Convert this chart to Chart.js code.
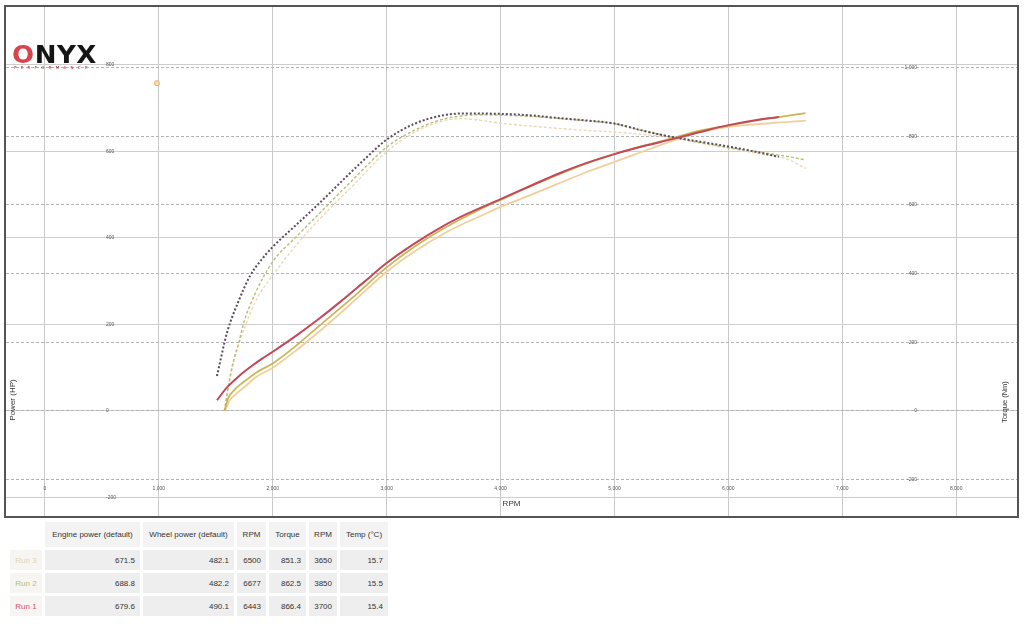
<!DOCTYPE html>
<html>
<head>
<meta charset="utf-8">
<script src="https://cdn.jsdelivr.net/npm/chart.js@4.4.1/dist/chart.umd.min.js"></script>
<style>
  html, body { margin:0; padding:0; background:#fff; width:1024px; height:624px; overflow:hidden;
    font-family:"Liberation Sans", Arial, sans-serif; }
  #frame { position:absolute; left:4px; top:5px; width:1011px; height:509px; border:2px solid #555; }
  #frame canvas { display:block; }
  #logo { position:absolute; left:12px; top:43px; z-index:2; }
  #logo .brand { font-family:"DejaVu Sans", sans-serif; font-weight:bold; font-size:25px; line-height:24px;
    letter-spacing:0.5px; color:#151515; transform:scaleX(1.04); transform-origin:left top; }
  #logo .brand .o { color:#d8434c; }
  #logo .sub { font-family:"DejaVu Sans", sans-serif; font-size:4px; line-height:4px; letter-spacing:4.3px;
    color:#9a2a30; margin-left:2px; margin-top:-1px; }
  #stats { position:absolute; left:7px; top:519px; border-collapse:separate; border-spacing:3px;
    font-size:8px; color:#333; table-layout:fixed; }
  #stats th, #stats td { box-sizing:border-box; padding:0 5px; white-space:nowrap; }
  #stats th { height:25px; font-weight:normal; background:#f3f3f3; text-align:center; }
  #stats th.blank { background:transparent; }
  #stats td { height:20px; background:#eeeeee; text-align:right; }
  #stats td.run { text-align:center; background:#f7f5f2; }
</style>
</head>
<body>
<div id="frame"><canvas id="c"></canvas></div>
<div id="logo"><div class="brand"><span class="o">O</span>NYX</div><div class="sub">PERFORMANCE</div></div>
<table id="stats"></table>
<script>
// ---- chart data ----
const run1Rpm    = [1510,1600,1700,1800,1900,2000,2200,2400,2600,2800,3000,3250,3500,3700,4000,4250,4500,4750,5000,5250,5500,5750,6000,6250,6443];
const run1Power  = [25,55,80,101,120,137,173,212,254,298,342,388,428,455,490,519,548,573,594,612,628,645,661,673,679.6];
const run1Torque = [102,230,320,393,440,478,540,602,667,731,790,837,861,866.4,865,861,853,846,837,816,798,784,770,754,740];

const run2Rpm    = [1575,1610,1650,1700,1750,1850,2000,2200,2400,2700,3000,3250,3500,3850,4000,4250,4500,4750,5000,5250,5500,5750,6000,6250,6500,6677];
const run2Power  = [0,30,45,58,68,88,110,150,195,262,332,381,422,470,488,518,546,572,594,613,630,648,660,672,682,688.8];
const run2Torque = [0,71,139,197,262,345,435,505,572,672,768,818,850,862.5,861,858,852,845,836,816,798,782,767,755,742,731];

const run3Rpm    = [1580,1620,1680,1750,1850,2000,2200,2400,2700,3000,3250,3500,3650,3800,4000,4250,4500,4750,5000,5250,5500,5750,6000,6250,6500,6680];
const run3Power  = [0,24,40,55,78,100,139,182,251,322,370,410,430,448,472,498,525,552,576,600,624,644,657,663,668,671.5];
const run3Torque = [0,85,170,240,320,395,480,555,655,755,812,845,851.3,847,838,830,823,817,812,805,796,780,765,750,735,706];

const strayRpm   = [983];
const strayPower = [758];

// ---- axis tick steps ----
const rpmStep = 1000;
const powerStep = 200;
const torqueStep = 200;

// ---- table data ----
const headers     = ['Engine power (default)','Wheel power (default)','RPM','Torque','RPM','Temp (°C)'];
const runNames    = ['Run 3','Run 2','Run 1'];
const enginePower = [671.5, 688.8, 679.6];
const wheelPower  = [482.1, 482.2, 490.1];
const powerRpm    = [6500, 6677, 6443];
const peakTorque  = [851.3, 862.5, 866.4];
const torqueRpm   = [3650, 3850, 3700];
const temps       = [15.7, 15.5, 15.4];

const runColors = { 'Run 1':'#d9506a', 'Run 2':'#bcbc6a', 'Run 3':'#e2d2b2' };

// ---- table ----
(function(){
  const t = document.getElementById('stats');
  const widths = [32,95,91,29,37,28,48];
  let h = '<tr><th class="blank" style="width:'+widths[0]+'px"></th>';
  headers.forEach((s,i)=>{ h += '<th style="width:'+widths[i+1]+'px">'+s+'</th>'; });
  h += '</tr>';
  runNames.forEach((n,i)=>{
    h += '<tr><td class="run" style="color:'+runColors[n]+'">'+n+'</td>' +
      '<td>'+enginePower[i].toFixed(1)+'</td><td>'+wheelPower[i].toFixed(1)+'</td>' +
      '<td>'+powerRpm[i]+'</td><td>'+peakTorque[i].toFixed(1)+'</td>' +
      '<td>'+torqueRpm[i]+'</td><td>'+temps[i].toFixed(1)+'</td></tr>';
  });
  t.innerHTML = h;
})();

// ---- chart ----
const pts = (xs, ys) => xs.map((x,i)=>({x:x, y:ys[i]}));
const stepLabel = (step) => (v) => {
  const r = v / step;
  return Math.abs(r - Math.round(r)) < 1e-6 ? Number(v).toLocaleString('en-US') : null;
};
const zeroFit = (horizontal) => (s) => {
  if (horizontal) s.height = 0; else s.width = 0;
  s.paddingLeft = 0; s.paddingRight = 0; s.paddingTop = 0; s.paddingBottom = 0;
};

const axisTitles = {
  id:'axisTitles',
  afterDraw(chart){
    const {ctx, chartArea:a} = chart;
    ctx.save();
    ctx.fillStyle = '#333';
    ctx.textAlign = 'center';
    ctx.textBaseline = 'middle';
    ctx.font = '8px "Liberation Sans", Arial, sans-serif';
    ctx.fillText('RPM', (a.left+a.right)/2, a.bottom - 12);
    ctx.save();
    ctx.translate(a.left + 7, a.top + 393);
    ctx.rotate(-Math.PI/2);
    ctx.fillText('Power (HP)', 0, 0);
    ctx.restore();
    ctx.save();
    ctx.font = '7.5px "Liberation Sans", Arial, sans-serif';
    ctx.translate(a.right - 12, a.top + 395);
    ctx.rotate(-Math.PI/2);
    ctx.fillText('Torque (Nm)', 0, 0);
    ctx.restore();
    ctx.restore();
  }
};

const tickFont = { size:5, family:'"Liberation Sans", Arial, sans-serif' };

new Chart(document.getElementById('c'), {
  type:'line',
  data:{
    datasets:[
      { label:'Run 1 power', data:pts(run1Rpm, run1Power), yAxisID:'yP',
        borderColor:'#c2485a', borderWidth:2 },
      { label:'Run 1 torque', data:pts(run1Rpm, run1Torque), yAxisID:'yT',
        borderColor:'#5e4a5e', borderWidth:2, borderDash:[2,2] },
      { label:'Run 2 power', data:pts(run2Rpm, run2Power), yAxisID:'yP',
        borderColor:'#c9b654', borderWidth:1.8 },
      { label:'Run 2 torque', data:pts(run2Rpm, run2Torque), yAxisID:'yT',
        borderColor:'#b5bf76', borderWidth:1.4, borderDash:[3,2] },
      { label:'Run 3 power', data:pts(run3Rpm, run3Power), yAxisID:'yP',
        borderColor:'#f1cf9c', borderWidth:1.8 },
      { label:'Run 3 torque', data:pts(run3Rpm, run3Torque), yAxisID:'yT',
        borderColor:'#ecd7b6', borderWidth:1.4, borderDash:[3,2] },
      { label:'marker', data:pts(strayRpm, strayPower), yAxisID:'yP', showLine:false,
        pointRadius:2.5, pointBorderWidth:1, pointBorderColor:'#eeae62', pointBackgroundColor:'#f8dcb4' }
    ]
  },
  options:{
    responsive:true,
    maintainAspectRatio:false,
    animation:false,
    events:[],
    layout:{ padding:0, autoPadding:false },
    elements:{ point:{ radius:0 }, line:{ cubicInterpolationMode:'monotone', fill:false } },
    plugins:{ legend:{ display:false }, tooltip:{ enabled:false } },
    scales:{
      x:{ type:'linear', position:'bottom', min:-342, max:8534,
          afterFit:zeroFit(true),
          grid:{ color:'#c9c9c9', lineWidth:1, drawTicks:false },
          border:{ display:false },
          ticks:{ mirror:true, padding:24, autoSkip:false, maxRotation:0,
                  font:tickFont, color:'#555', callback:stepLabel(rpmStep) } },
      yP:{ type:'linear', position:'left', min:-242.8, max:934.1,
          afterFit:zeroFit(false),
          grid:{ color:'#cdcdcd', lineWidth:1, drawTicks:false },
          border:{ display:false },
          ticks:{ mirror:true, padding:100, autoSkip:false,
                  font:tickFont, color:'#555', callback:stepLabel(powerStep) } },
      yT:{ type:'linear', position:'right', min:-305.7, max:1176.1,
          afterFit:zeroFit(false),
          grid:{ color:'#b3b3b3', lineWidth:1, drawTicks:false },
          border:{ display:false, dash:[3,2] },
          ticks:{ mirror:true, padding:-100, autoSkip:false,
                  font:tickFont, color:'#555', callback:stepLabel(torqueStep) } }
    }
  },
  plugins:[axisTitles]
});
</script>
</body>
</html>
